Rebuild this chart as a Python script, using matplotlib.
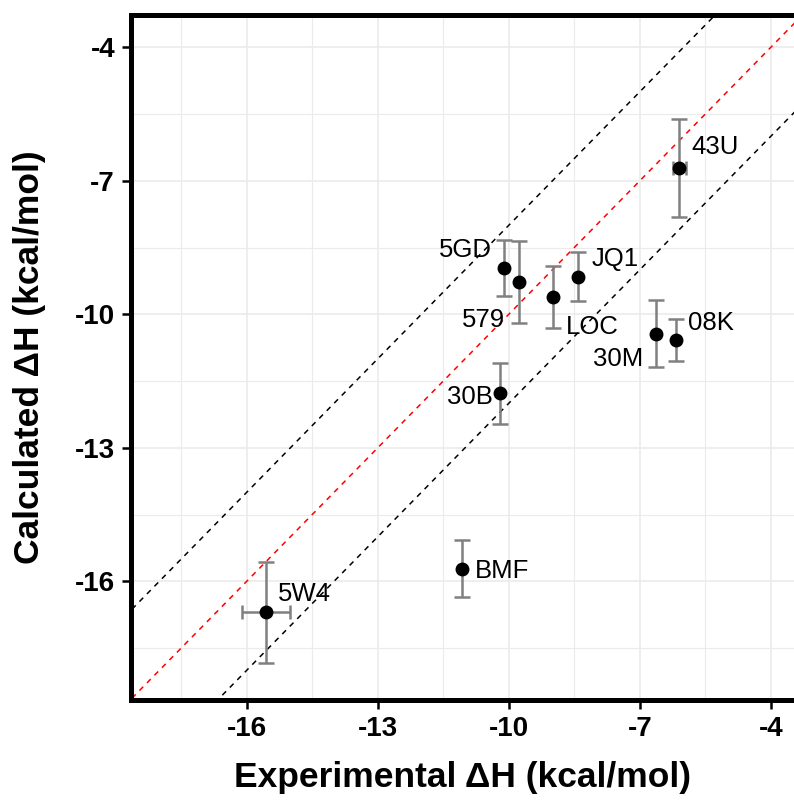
import numpy as np
import matplotlib.pyplot as plt

plt.rcParams['font.family'] = ['Liberation Sans', 'DejaVu Sans']
plt.rcParams['axes.unicode_minus'] = False

names = ['43U', '5W4', '5GD', '579', 'LOC', 'JQ1', '30M', '08K', '30B', 'BMF']
exp_dh = [-6.10, -15.56, -10.11, -9.77, -8.99, -8.41, -6.63, -6.17, -10.20, -11.08]
exp_err = [0.15, 0.54, 0, 0, 0, 0, 0, 0, 0, 0]
calc_dh = [-6.71, -16.70, -8.97, -9.28, -9.61, -9.16, -10.44, -10.58, -11.78, -15.72]
calc_err = [1.10, 1.13, 0.63, 0.92, 0.69, 0.55, 0.75, 0.47, 0.69, 0.64]

ticks = [-16, -13, -10, -7, -4]
minor_ticks = [-17.5, -14.5, -11.5, -8.5, -5.5]

# label offsets (points) and alignment, like ggrepel placed them
label_off = {
    '43U': (9, 15, 'left'), '5W4': (8.4, 13.5, 'left'), '5GD': (-9, 13.5, 'right'),
    '579': (-10, -27.5, 'right'), 'LOC': (9.4, -22, 'left'), 'JQ1': (9.4, 13, 'left'),
    '30M': (-8.9, -18, 'right'), '08K': (8.6, 12.5, 'left'), '30B': (-5.3, -2.5, 'right'),
    'BMF': (9.4, -1.5, 'left'),
}

fig = plt.figure(figsize=(7.94, 8.01), dpi=100)
ax = fig.add_axes([0.165, 0.126, 0.835, 0.855])
xlim = (-18.65, -3.47)
ylim = (-18.67, -3.28)

ax.set_xticks(ticks)
ax.set_yticks(ticks)
ax.set_xticks(minor_ticks, minor=True)
ax.set_yticks(minor_ticks, minor=True)
ax.grid(which='major', color='#ebebeb', lw=1.2)
ax.grid(which='minor', color='#ebebeb', lw=0.8)
ax.set_axisbelow(True)

line_x = np.array([-20, -2])
ax.plot(line_x, line_x, color='red', lw=1.1, ls=(0, (3.5, 3.5)))
ax.plot(line_x, line_x + 2, color='black', lw=1.1, ls=(0, (3.5, 3.5)))
ax.plot(line_x, line_x - 2, color='black', lw=1.1, ls=(0, (3.5, 3.5)))

ax.errorbar(exp_dh, calc_dh, yerr=calc_err, fmt='none', ecolor='#808080',
            elinewidth=1.8, capsize=5.8, capthick=1.8)
xe = [i for i, e in enumerate(exp_err) if e > 0]
ax.errorbar([exp_dh[i] for i in xe], [calc_dh[i] for i in xe],
            xerr=[exp_err[i] for i in xe], fmt='none', ecolor='#808080',
            elinewidth=1.8, capsize=5, capthick=1.8)
ax.plot(exp_dh, calc_dh, 'o', color='black', ms=9)

for n, x, y in zip(names, exp_dh, calc_dh):
    dx, dy, ha = label_off[n]
    ax.annotate(n, (x, y), xytext=(dx, dy), textcoords='offset points',
                ha=ha, va='center', fontsize=18.5)

ax.set_xlim(xlim)
ax.set_ylim(ylim)
for s in ['left', 'top', 'bottom']:
    ax.spines[s].set_linewidth(3.6)
ax.spines['right'].set_visible(False)
ax.tick_params(which='major', length=6.5, width=1.8, labelsize=20, pad=5)
ax.tick_params(which='minor', length=0)
for lab in ax.get_xticklabels() + ax.get_yticklabels():
    lab.set_fontweight('bold')

ax.set_xlabel('Experimental ΔH (kcal/mol)', fontsize=25.5, fontweight='bold', labelpad=14)
ax.set_ylabel('Calculated ΔH (kcal/mol)', fontsize=25.5, fontweight='bold', labelpad=21)

plt.savefig('out.png', dpi=100)
plt.close()
